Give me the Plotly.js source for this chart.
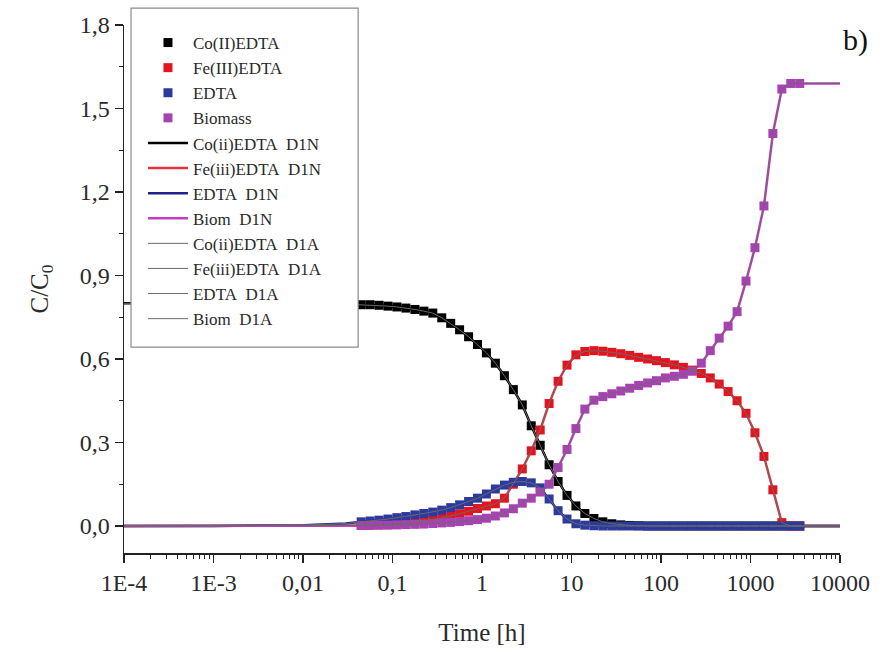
<!DOCTYPE html>
<html><head><meta charset="utf-8">
<script src="https://cdn.plot.ly/plotly-3.0.1.min.js"></script>
<style>html,body{margin:0;padding:0;background:#fff}#chart{width:894px;height:652px}</style>
</head><body><div id="chart"></div>
<script>
// Measurement times [h]
const tData = [0.0447,0.0562,0.0708,0.0891,0.112,0.141,0.178,0.224,0.282,0.355,
  0.447,0.562,0.708,0.891,1.12,1.41,1.78,2.24,2.82,3.55,
  4.47,5.62,7.08,8.91,11.2,14.1,17.8,22.4,28.2,35.5,
  44.7,56.2,70.8,89.1,112,141,178,224,282,355,
  447,562,708,891,1122,1413,1778,2239,2818,3548];
const coEDTA = [0.795,0.795,0.793,0.79,0.787,0.783,0.778,0.772,0.765,0.748,
  0.728,0.705,0.68,0.652,0.622,0.585,0.54,0.49,0.435,0.36,
  0.29,0.22,0.16,0.11,0.072,0.045,0.027,0.015,0.008,0.004,
  0.002,0.001,0,0,0,0,0,0,0,0,
  0,0,0,0,0,0,0,0,0,0];
const feEDTA = [0.002,0.003,0.004,0.006,0.008,0.011,0.014,0.018,0.023,0.029,
  0.036,0.044,0.053,0.063,0.072,0.08,0.1,0.15,0.205,0.27,
  0.345,0.44,0.52,0.578,0.615,0.627,0.63,0.628,0.624,0.619,
  0.613,0.606,0.6,0.594,0.587,0.579,0.57,0.56,0.548,0.532,
  0.51,0.483,0.45,0.405,0.335,0.25,0.13,0.012,0,0];
const edta = [0.015,0.018,0.021,0.025,0.03,0.034,0.04,0.045,0.05,0.057,
  0.066,0.076,0.088,0.1,0.115,0.133,0.147,0.157,0.16,0.155,
  0.137,0.097,0.055,0.025,0.008,0.003,0.001,0,0,0,
  0,0,0,0,0,0,0,0,0,0,
  0,0,0,0,0,0,0,0,0,0];
const biomass = [0.002,0.002,0.003,0.003,0.004,0.005,0.006,0.007,0.009,0.011,
  0.013,0.016,0.019,0.023,0.028,0.036,0.047,0.062,0.082,0.1,
  0.122,0.15,0.21,0.275,0.35,0.42,0.452,0.465,0.475,0.485,
  0.495,0.505,0.514,0.522,0.532,0.538,0.545,0.556,0.585,0.63,
  0.675,0.718,0.77,0.88,1.0,1.15,1.41,1.57,1.59,1.59];
// Model curve extension before/after the measured range
const tHead = [0.0001,0.001,0.01,0.03];
const coHead = [0.8,0.8,0.799,0.797];
const feHead = [0,0,0,0.001];
const edHead = [0,0,0.003,0.009];
const bioHead = [0,0,0.001,0.001];
const tTail = [5000,10000];
const coTail = [0,0];
const feTail = [0,0];
const edTail = [0,0];
const bioTail = [1.59,1.59];
const xTickVals = [1e-4,1e-3,0.01,0.1,1,10,100,1000,10000];
const xTickText = ['1E-4','1E-3','0,01','0,1','1','10','100','1000','10000'];

const tLine = tHead.concat(tData, tTail);
const FONT = 'Liberation Serif, Times New Roman, serif';

const markerSeries = [
  {name:'Co(II)EDTA', y:coEDTA, color:'#000000'},
  {name:'Fe(III)EDTA', y:feEDTA, color:'#e3141e'},
  {name:'EDTA', y:edta, color:'#2b3a9c'},
  {name:'Biomass', y:biomass, color:'#a842b4'}
];
const lineN = [
  {name:'Co(ii)EDTA\u00a0 D1N', y:coHead.concat(coEDTA,coTail), color:'#000000'},
  {name:'Fe(iii)EDTA\u00a0 D1N', y:feHead.concat(feEDTA,feTail), color:'#e2353d'},
  {name:'EDTA\u00a0 D1N', y:edHead.concat(edta,edTail), color:'#22228c'},
  {name:'Biom\u00a0 D1N', y:bioHead.concat(biomass,bioTail), color:'#c43cc4'}
];
const lineA = [
  {name:'Co(ii)EDTA\u00a0 D1A', y:coHead.concat(coEDTA,coTail)},
  {name:'Fe(iii)EDTA\u00a0 D1A', y:feHead.concat(feEDTA,feTail)},
  {name:'EDTA\u00a0 D1A', y:edHead.concat(edta,edTail)},
  {name:'Biom\u00a0 D1A', y:bioHead.concat(biomass,bioTail)}
];
const traces = [];
lineN.forEach((s,i)=>traces.push({x:tLine,y:s.y,name:s.name,type:'scatter',mode:'lines',
  line:{color:s.color,width:2.5},legendrank:5+i}));
markerSeries.forEach((s,i)=>traces.push({x:tData,y:s.y,name:s.name,type:'scatter',mode:'markers',
  marker:{symbol:'square',size:9,color:s.color},legendrank:1+i}));
lineA.forEach((s,i)=>traces.push({x:tLine,y:s.y,name:s.name,type:'scatter',mode:'lines',
  line:{color:'#6a6a6a',width:1},legendrank:9+i}));

const minorX = [];
for (let e=-4;e<4;e++){ for (let k=2;k<10;k++){ minorX.push(k*Math.pow(10,e)); } }

const layout = {
  width:894, height:652,
  margin:{l:124, r:54, t:25, b:99},
  paper_bgcolor:'#fff', plot_bgcolor:'#fff',
  separators:',.',
  showlegend:true,
  font:{family:FONT, color:'#222'},
  xaxis:{type:'log', range:[-4,4], showgrid:false, zeroline:false,
    showline:true, linecolor:'#222', linewidth:1.5,
    ticks:'outside', ticklen:8, tickwidth:1.5, tickcolor:'#222',
    tickmode:'array', tickvals:xTickVals, ticktext:xTickText,
    tickfont:{family:FONT,size:24,color:'#2a2a2a'},
    minor:{tickmode:'array', tickvals:minorX, ticks:'outside', ticklen:4, tickcolor:'#222', tickwidth:1, showgrid:false},
    title:{text:'Time [h]', font:{family:FONT,size:25,color:'#2a2a2a'}, standoff:28}},
  yaxis:{range:[-0.097,1.8], showgrid:false, zeroline:false,
    showline:true, linecolor:'#222', linewidth:1.5,
    ticks:'outside', ticklen:8, tickwidth:1.5, tickcolor:'#222',
    tick0:0, dtick:0.3, tickformat:'.1f',
    tickfont:{family:FONT,size:24,color:'#2a2a2a'},
    minor:{dtick:0.15, ticks:'outside', ticklen:4, tickcolor:'#222', tickwidth:1, showgrid:false},
    title:{text:'C/C<sub>0</sub>', font:{family:FONT,size:25,color:'#2a2a2a'}, standoff:24}},
  legend:{x:0.0265, y:1.0, xanchor:'left', yanchor:'top', bgcolor:'rgba(0,0,0,0)',
    borderwidth:0, itemwidth:40, font:{family:FONT,size:17,color:'#2a2a2a'},
    traceorder:'normal'},
  shapes:[{type:'rect', xref:'paper', yref:'paper', x0:0.0098, x1:0.327, y0:0.39, y1:1.032,
    fillcolor:'#ffffff', line:{color:'#8a8a8a', width:1.2}, layer:'above'}],
  annotations:[{text:'b)', xref:'paper', yref:'paper', x:1.022, y:0.972, xanchor:'center', yanchor:'middle',
    showarrow:false, font:{family:FONT,size:30,color:'#111'}}]
};
Plotly.newPlot('chart', traces, layout, {displayModeBar:false, staticPlot:true});
</script></body></html>
